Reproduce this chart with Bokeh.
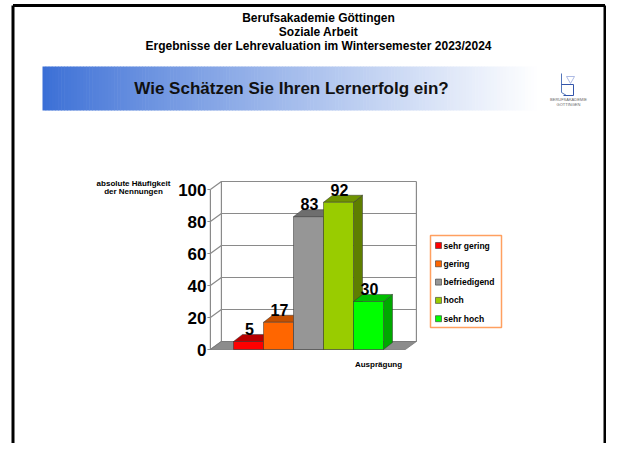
from bokeh.plotting import figure
from bokeh.models import Range1d
from bokeh.core.properties import value
from bokeh.embed import file_html
from bokeh.resources import INLINE

# ---------------- data ----------------
categories = ["sehr gering", "gering", "befriedigend", "hoch", "sehr hoch"]
counts = [5, 17, 83, 92, 30]
front_colors = ["#FF0000", "#FF6600", "#969696", "#99CC00", "#00FF00"]
top_colors = ["#B80000", "#C45000", "#6E6E6E", "#6F9400", "#00BE00"]
side_colors = ["#A00000", "#B04800", "#606060", "#5E7E00", "#00A800"]
y_ticks = [0, 20, 40, 60, 80, 100]
y_tick_labels = ["0", "20", "40", "60", "80", "100"]

title_lines = ["Berufsakademie Göttingen", "Soziale Arbeit",
               "Ergebnisse der Lehrevaluation im Wintersemester 2023/2024"]
banner_text = "Wie Schätzen Sie Ihren Lernerfolg ein?"
y_title = ["absolute Häufigkeit", "der Nennungen"]
x_title = "Ausprägung"

FONT = value("Liberation Sans")

W, H = 606, 443
# chart ranges (data units) chosen so the plot sits where the slide has it
p = figure(width=W, height=H, output_backend="svg", toolbar_location=None,
           x_range=Range1d(-248 / 30, (W - 248) / 30),
           y_range=Range1d((349 - H) / 1.6, 349 / 1.6),
           min_border=0, outline_line_color=None)
p.axis.visible = False
p.grid.visible = False
# pixel space for decoration (y downward)
p.extra_x_ranges = {"px": Range1d(0, W)}
p.extra_y_ranges = {"px": Range1d(H, 0)}
PX = dict(x_range_name="px", y_range_name="px")

# ---------------- slide frame ----------------
p.line([12.5, 12.5], [H, 5], line_color="black", line_width=3, **PX)
p.line([12.5, 604.5], [5, 5], line_color="black", line_width=3, **PX)
p.line([604.5, 604.5], [5, H], line_color="black", line_width=3, **PX)

# ---------------- titles ----------------
for i, t in enumerate(title_lines):
    p.text(x=[318], y=[17 + 14 * i], text=[t], text_font=FONT, text_font_style="bold",
           text_font_size="12px", text_align="center", text_baseline="middle",
           text_color="black", **PX)

# gradient banner
N = 160
x0, x1 = 42, 540
def lerp(c0, c1, t):
    return "#%02x%02x%02x" % tuple(int(round(a + (b - a) * t)) for a, b in zip(c0, c1))
c_left, c_right = (59, 111, 214), (255, 255, 255)
lefts, rights, cols = [], [], []
for k in range(N):
    a = x0 + (x1 - x0) * k / N
    b = x0 + (x1 - x0) * (k + 1) / N + 0.6
    t = (k / (N - 1))
    lefts.append(a); rights.append(b); cols.append(lerp(c_left, c_right, t ** 0.9))
p.quad(left=lefts, right=rights, top=[66] * N, bottom=[110] * N, fill_color=cols,
       line_color=None, **PX)
p.text(x=[291], y=[88], text=[banner_text], text_font=FONT, text_font_style="bold",
       text_font_size="17px", text_align="center", text_baseline="middle",
       text_color="#111111", **PX)

# logo (approximation)
p.line([561, 561, 566], [73, 92, 95], line_color="#5577BB", line_width=1, **PX)
p.line([561, 573, 573, 563], [84, 84, 95, 95], line_color="#3355AA", line_width=1, **PX)
p.line([566, 574, 570, 566], [76, 76, 83, 76], line_color="#99AADD", line_width=0.8, **PX)
p.text(x=[568, 568], y=[99, 104], text=["BERUFSAKADEMIE", "GÖTTINGEN"], text_font=FONT,
       text_font_size="4px", text_align="center", text_baseline="middle",
       text_color="#666666", **PX)

# ---------------- 3D chart ----------------
n = len(categories)
DX, DY = 0.367, 5.0        # wall depth (data units)
BDX, BDY = 0.30, 4.4       # bar depth
xL, xR = -0.5 - 0.77, (n - 0.5) + 0.73
top = y_ticks[-1]
grid_c = "#8A8A8A"

# walls (white) and gridlines
p.patch([xL, xL + DX, xL + DX, xL], [0, DY, top + DY, top], fill_color="white",
        line_color=None)
for t in y_ticks:
    p.line([xL, xL + DX, xR + DX], [t, t + DY, t + DY], line_color=grid_c, line_width=1.2)
p.line([xL + DX, xL + DX], [DY, top + DY], line_color=grid_c, line_width=1.2)
p.line([xR + DX, xR + DX], [DY, top + DY], line_color=grid_c, line_width=1.2)
p.line([xL, xL], [0, top], line_color=grid_c, line_width=1.2)
for t in y_ticks:
    p.line([xL - 0.1, xL], [t, t], line_color=grid_c, line_width=1.2)

# floor
p.patch([xL, xR, xR + DX, xL + DX], [0, 0, DY, DY], fill_color="#8C8C8C",
        line_color="#777777", line_width=0.8)

# bars, left to right
for i, v in enumerate(counts):
    l, r = i - 0.5, i + 0.5
    p.patch([r, r, r + BDX, r + BDX], [0, v, v + BDY, BDY], fill_color=side_colors[i],
            line_color="#333333", line_width=0.5)
    p.patch([l, r, r + BDX, l + BDX], [v, v, v + BDY, v + BDY], fill_color=top_colors[i],
            line_color="#333333", line_width=0.5)
    p.quad(left=[l], right=[r], bottom=[0], top=[v], fill_color=front_colors[i],
           line_color="#333333", line_width=0.5)

# value labels
p.text(x=list(range(n)), y=counts, text=[str(c) for c in counts], text_font=FONT,
       text_font_style="bold", text_font_size="16px", text_align="center",
       text_baseline="middle", x_offset=1, y_offset=-12.5, text_color="black")

# y tick labels (x in pixels, y in data)
p.text(x=[206] * len(y_ticks), y=y_ticks, text=y_tick_labels, x_range_name="px",
       text_font=FONT, text_font_style="bold", text_font_size="17px",
       text_align="right", text_baseline="middle", text_color="black")

# axis titles
for i, t in enumerate(y_title):
    p.text(x=[133], y=[183 + 8 * i], text=[t], text_font=FONT, text_font_style="bold",
           text_font_size="8px", text_align="center", text_baseline="middle", **PX)
p.text(x=[378], y=[364], text=[x_title], text_font=FONT, text_font_style="bold",
       text_font_size="8px", text_align="center", text_baseline="middle", **PX)

# legend
p.quad(left=[430], right=[501], top=[235], bottom=[327], fill_color="white",
       line_color="#FFA060", line_width=1.5, **PX)
for i, c in enumerate(categories):
    yc = 245 + 18.3 * i
    p.quad(left=[435], right=[441], top=[yc - 3], bottom=[yc + 3], fill_color=front_colors[i],
           line_color="#333333", line_width=0.6, **PX)
    p.text(x=[443], y=[yc], text=[c], text_font=FONT, text_font_style="bold",
           text_font_size="8.5px", text_align="left", text_baseline="middle", **PX)

open("out.html", "w").write(file_html(p, INLINE))
